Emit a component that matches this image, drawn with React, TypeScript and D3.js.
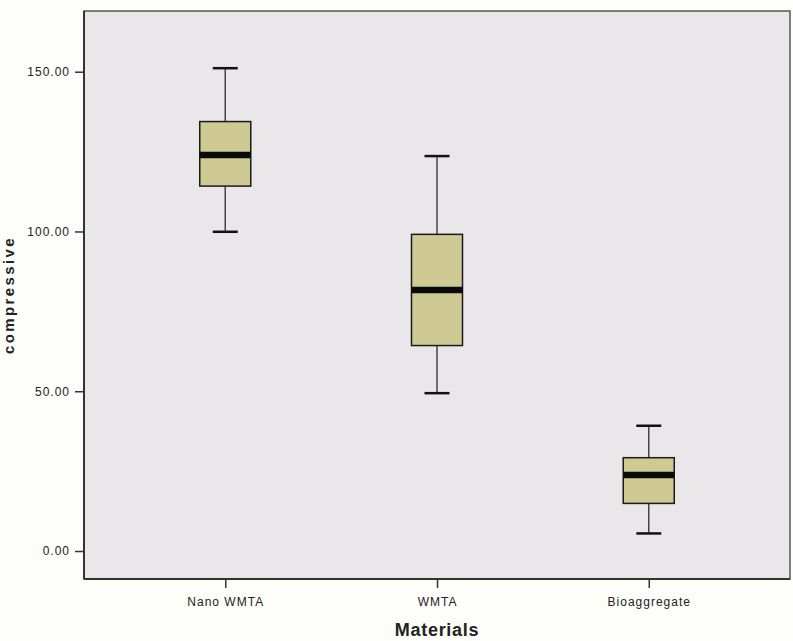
import React, { useEffect, useRef } from 'react';
import * as d3 from 'd3';

const categories = ['Nano WMTA', 'WMTA', 'Bioaggregate'];
const lowWhisker = [99.9, 49.4, 5.5];
const q1 = [114.2, 64.3, 14.9];
const medians = [123.9, 81.7, 23.8];
const q3 = [134.4, 99.1, 29.2];
const highWhisker = [151.1, 123.6, 39.2];
const yTicks = [0, 50, 100, 150];

const App = () => {
  const ref = useRef<SVGSVGElement | null>(null);

  useEffect(() => {
    const svg = d3.select(ref.current);
    svg.selectAll('*').remove();

    const left = 84, right = 790, top = 11, bottom = 579;
    const font = '"Liberation Sans", Arial, sans-serif';

    const x = d3.scalePoint<string>()
      .domain(categories)
      .range([left, right])
      .padding(0.667);

    const y = d3.scaleLinear()
      .domain([-8.76, 169])
      .range([bottom, top]);

    svg.append('rect')
      .attr('width', 793).attr('height', 641)
      .attr('fill', '#fdfdf9');

    svg.append('rect')
      .attr('x', left).attr('y', top)
      .attr('width', right - left).attr('height', bottom - top)
      .attr('fill', '#e9e7ea')
      .attr('stroke', '#555')
      .attr('stroke-width', 1.5);

    const boxes = categories.map((c, i) => ({
      c, lo: lowWhisker[i], q1: q1[i], med: medians[i], q3: q3[i], hi: highWhisker[i]
    }));

    const boxW = 51, capW = 25;
    const g = svg.selectAll('.box').data(boxes).enter().append('g');

    g.append('line')
      .attr('x1', d => x(d.c)!).attr('x2', d => x(d.c)!)
      .attr('y1', d => y(d.hi)).attr('y2', d => y(d.q3))
      .attr('stroke', '#444').attr('stroke-width', 1.5);
    g.append('line')
      .attr('x1', d => x(d.c)!).attr('x2', d => x(d.c)!)
      .attr('y1', d => y(d.q1)).attr('y2', d => y(d.lo))
      .attr('stroke', '#444').attr('stroke-width', 1.5);

    ['hi', 'lo'].forEach(k => {
      g.append('line')
        .attr('x1', d => x(d.c)! - capW / 2).attr('x2', d => x(d.c)! + capW / 2)
        .attr('y1', (d: any) => y(d[k])).attr('y2', (d: any) => y(d[k]))
        .attr('stroke', '#111').attr('stroke-width', 2.5);
    });

    g.append('rect')
      .attr('x', d => x(d.c)! - boxW / 2)
      .attr('y', d => y(d.q3))
      .attr('width', boxW)
      .attr('height', d => y(d.q1) - y(d.q3))
      .attr('fill', '#cfc993')
      .attr('stroke', '#1a1a1a')
      .attr('stroke-width', 1.5);

    g.append('line')
      .attr('x1', d => x(d.c)! - boxW / 2).attr('x2', d => x(d.c)! + boxW / 2)
      .attr('y1', d => y(d.med)).attr('y2', d => y(d.med))
      .attr('stroke', '#0a0a0a').attr('stroke-width', 6.5);

    const yAxis = svg.append('g')
      .attr('transform', `translate(${left},0)`)
      .call(d3.axisLeft(y).tickValues(yTicks).tickFormat(d3.format('.2f')).tickSize(9).tickPadding(5));
    yAxis.select('.domain').remove();

    const xAxis = svg.append('g')
      .attr('transform', `translate(0,${bottom})`)
      .call(d3.axisBottom(x).tickSize(9).tickPadding(9));
    xAxis.select('.domain').remove();

    svg.selectAll('.tick line').attr('stroke', '#333').attr('stroke-width', 1.5);
    svg.selectAll('.tick text')
      .attr('fill', '#222')
      .style('font-family', font)
      .style('font-size', '12px')
      .style('letter-spacing', '1px');

    svg.append('line')
      .attr('x1', left).attr('x2', left).attr('y1', top).attr('y2', bottom)
      .attr('stroke', '#333').attr('stroke-width', 2);
    svg.append('line')
      .attr('x1', left).attr('x2', right).attr('y1', bottom).attr('y2', bottom)
      .attr('stroke', '#333').attr('stroke-width', 2);

    svg.append('text')
      .attr('x', (left + right) / 2).attr('y', 636)
      .attr('text-anchor', 'middle')
      .style('font-family', font)
      .style('font-size', '18px').style('font-weight', 'bold')
      .style('letter-spacing', '0.7px')
      .attr('fill', '#222')
      .text('Materials');

    svg.append('text')
      .attr('transform', `translate(14,${(top + bottom) / 2}) rotate(-90)`)
      .attr('text-anchor', 'middle')
      .style('font-family', font)
      .style('font-size', '15px').style('font-weight', 'bold')
      .style('letter-spacing', '2.4px')
      .attr('fill', '#222')
      .text('compressive');
  }, []);

  return (
    <svg ref={ref} width={793} height={641}
      style={{ position: 'absolute', left: 0, top: 0, display: 'block' }} />
  );
};

export default App;
